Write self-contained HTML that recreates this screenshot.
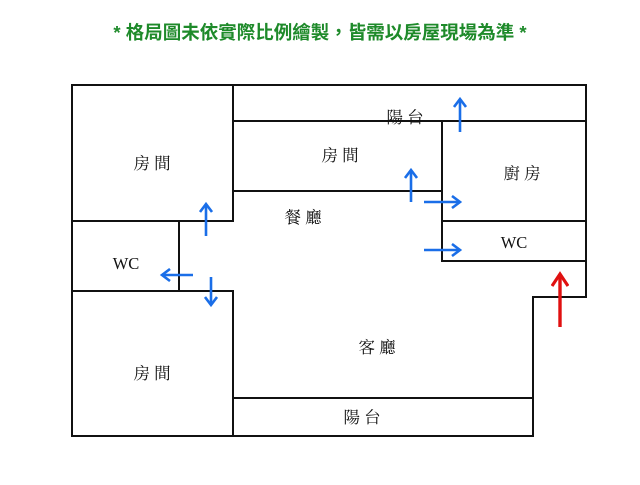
<!DOCTYPE html>
<html><head><meta charset="utf-8"><style>
body{margin:0;background:#fff;width:640px;height:480px;overflow:hidden}
</style></head><body>
<svg width="640" height="480" xmlns="http://www.w3.org/2000/svg">
<defs>
<marker id="b" markerWidth="14" markerHeight="14" refX="10" refY="7" orient="auto" markerUnits="userSpaceOnUse"><path d="M2,1 L10,7 L2,13" fill="none" stroke="#1a6ee8" stroke-width="2.6"/></marker>
<marker id="r" markerWidth="18" markerHeight="18" refX="14" refY="9" orient="auto" markerUnits="userSpaceOnUse"><path d="M2,1 L14,9 L2,17" fill="none" stroke="#e01010" stroke-width="3.2"/></marker>
</defs>
<text x="320" y="39" text-anchor="middle" font-family="Liberation Sans, Noto Sans CJK TC, sans-serif" font-size="18.5" font-weight="bold" fill="#1e8a2a">* 格局圖未依實際比例繪製，皆需以房屋現場為準 *</text>
<g stroke="#111" stroke-width="2" fill="none">
<path d="M72,85 H586 V297 H533 V436 H72 Z"/>
<path d="M233,85 V221 H72"/>
<path d="M72,291 H233 V436"/>
<path d="M179,221 V291"/>
<path d="M233,121 H586"/>
<path d="M233,191 H442"/>
<path d="M442,121 V261 H586"/>
<path d="M442,221 H586"/>
<path d="M233,398 H533"/>
</g>
<g font-family="Liberation Serif, Noto Serif CJK SC, serif" font-size="16.5" fill="#111" text-anchor="middle">
<text x="152" y="169">房 間</text>
<text x="340" y="161">房 間</text>
<text x="405" y="123">陽 台</text>
<text x="522" y="179">廚 房</text>
<text x="303" y="223">餐 廳</text>
<text x="126" y="269">WC</text>
<text x="514" y="248">WC</text>
<text x="377" y="353">客 廳</text>
<text x="152" y="379">房 間</text>
<text x="362" y="423">陽 台</text>
</g>
<g stroke="#1a6ee8" stroke-width="2.6" fill="none">
<line x1="206" y1="236" x2="206" y2="204" marker-end="url(#b)"/>
<line x1="193" y1="275" x2="162" y2="275" marker-end="url(#b)"/>
<line x1="211" y1="277" x2="211" y2="305" marker-end="url(#b)"/>
<line x1="460" y1="132" x2="460" y2="99" marker-end="url(#b)"/>
<line x1="411" y1="202" x2="411" y2="170" marker-end="url(#b)"/>
<line x1="424" y1="202" x2="460" y2="202" marker-end="url(#b)"/>
<line x1="424" y1="250" x2="460" y2="250" marker-end="url(#b)"/>
</g>
<line x1="560" y1="327" x2="560" y2="274" stroke="#e01010" stroke-width="3.4" marker-end="url(#r)"/>
</svg>
</body></html>
